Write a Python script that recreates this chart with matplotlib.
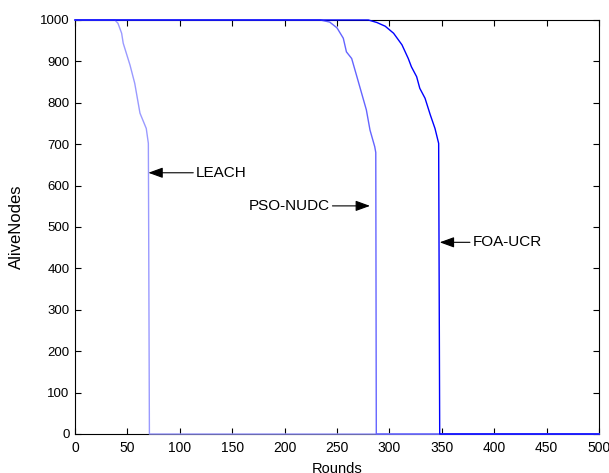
import matplotlib
matplotlib.use("Agg")
import matplotlib.pyplot as plt

# Data
leach_rounds = [0, 38, 41, 44.5, 46, 52.5, 57, 62, 68, 70, 71, 500]
leach_alive = [1000, 1000, 992, 968, 944, 891, 847, 775, 738, 702, 0, 0]

pso_rounds = [0, 234, 243, 250, 256, 259, 264, 269, 273.5, 278, 281.5, 286, 287, 287.5, 500]
pso_alive = [1000, 1000, 995, 981, 956, 923, 907, 863, 823, 783, 734, 694, 680, 0, 0]

foa_rounds = [0, 280, 288, 296, 304, 312, 318, 321, 326, 329, 334, 339, 343.5, 347, 348, 500]
foa_alive = [1000, 1000, 994, 985, 968, 940, 907, 887, 863, 835, 811, 771, 738, 702, 0, 0]

x_ticks = list(range(0, 501, 50))
y_ticks = list(range(0, 1001, 100))

plt.rcParams['font.family'] = ['Liberation Sans', 'DejaVu Sans']

fig = plt.figure(figsize=(6.09, 4.73), dpi=100)
ax = fig.add_axes([75/609, 1-434/473, (599-75)/609, (434-20)/473])

ax.plot(leach_rounds, leach_alive, color='#9a9aff', lw=1.0, zorder=3, clip_on=False)
ax.plot(pso_rounds, pso_alive, color='#6464ff', lw=1.0, zorder=3, clip_on=False)
ax.plot(foa_rounds, foa_alive, color='#0000ff', lw=1.0, zorder=3, clip_on=False)

ax.set_xlim(0, 500)
ax.set_ylim(0, 1000)
ax.set_xticks(x_ticks)
ax.set_yticks(y_ticks)
ax.tick_params(direction='in', top=True, right=True, length=4, width=0.8,
               colors='black')
ax.tick_params(axis='x', pad=5, labelsize=10)
ax.tick_params(axis='y', pad=4, labelsize=9.5)
for s in ax.spines.values():
    s.set_linewidth(0.8)

ax.set_xlabel('Rounds', fontsize=10.5)
ax.set_ylabel('AliveNodes', fontsize=12)
ax.xaxis.set_label_coords(0.5, -0.068)
ax.yaxis.set_label_coords(-0.097, 0.5)

arrow = dict(arrowstyle='-|>,head_length=0.55,head_width=0.2', color='black',
             lw=0.8, mutation_scale=16, shrinkA=0, shrinkB=0)
ax.annotate('LEACH', xy=(70, 631), xytext=(115.5, 631), fontsize=11,
            va='center', ha='left', arrowprops=arrow)
ax.annotate('PSO-NUDC', xy=(281.5, 551), xytext=(243, 551), fontsize=11,
            va='center', ha='right', arrowprops=arrow)
ax.annotate('FOA-UCR', xy=(348, 463), xytext=(379.5, 463), fontsize=11,
            va='center', ha='left', arrowprops=arrow)

fig.savefig('out.png', dpi=100)
